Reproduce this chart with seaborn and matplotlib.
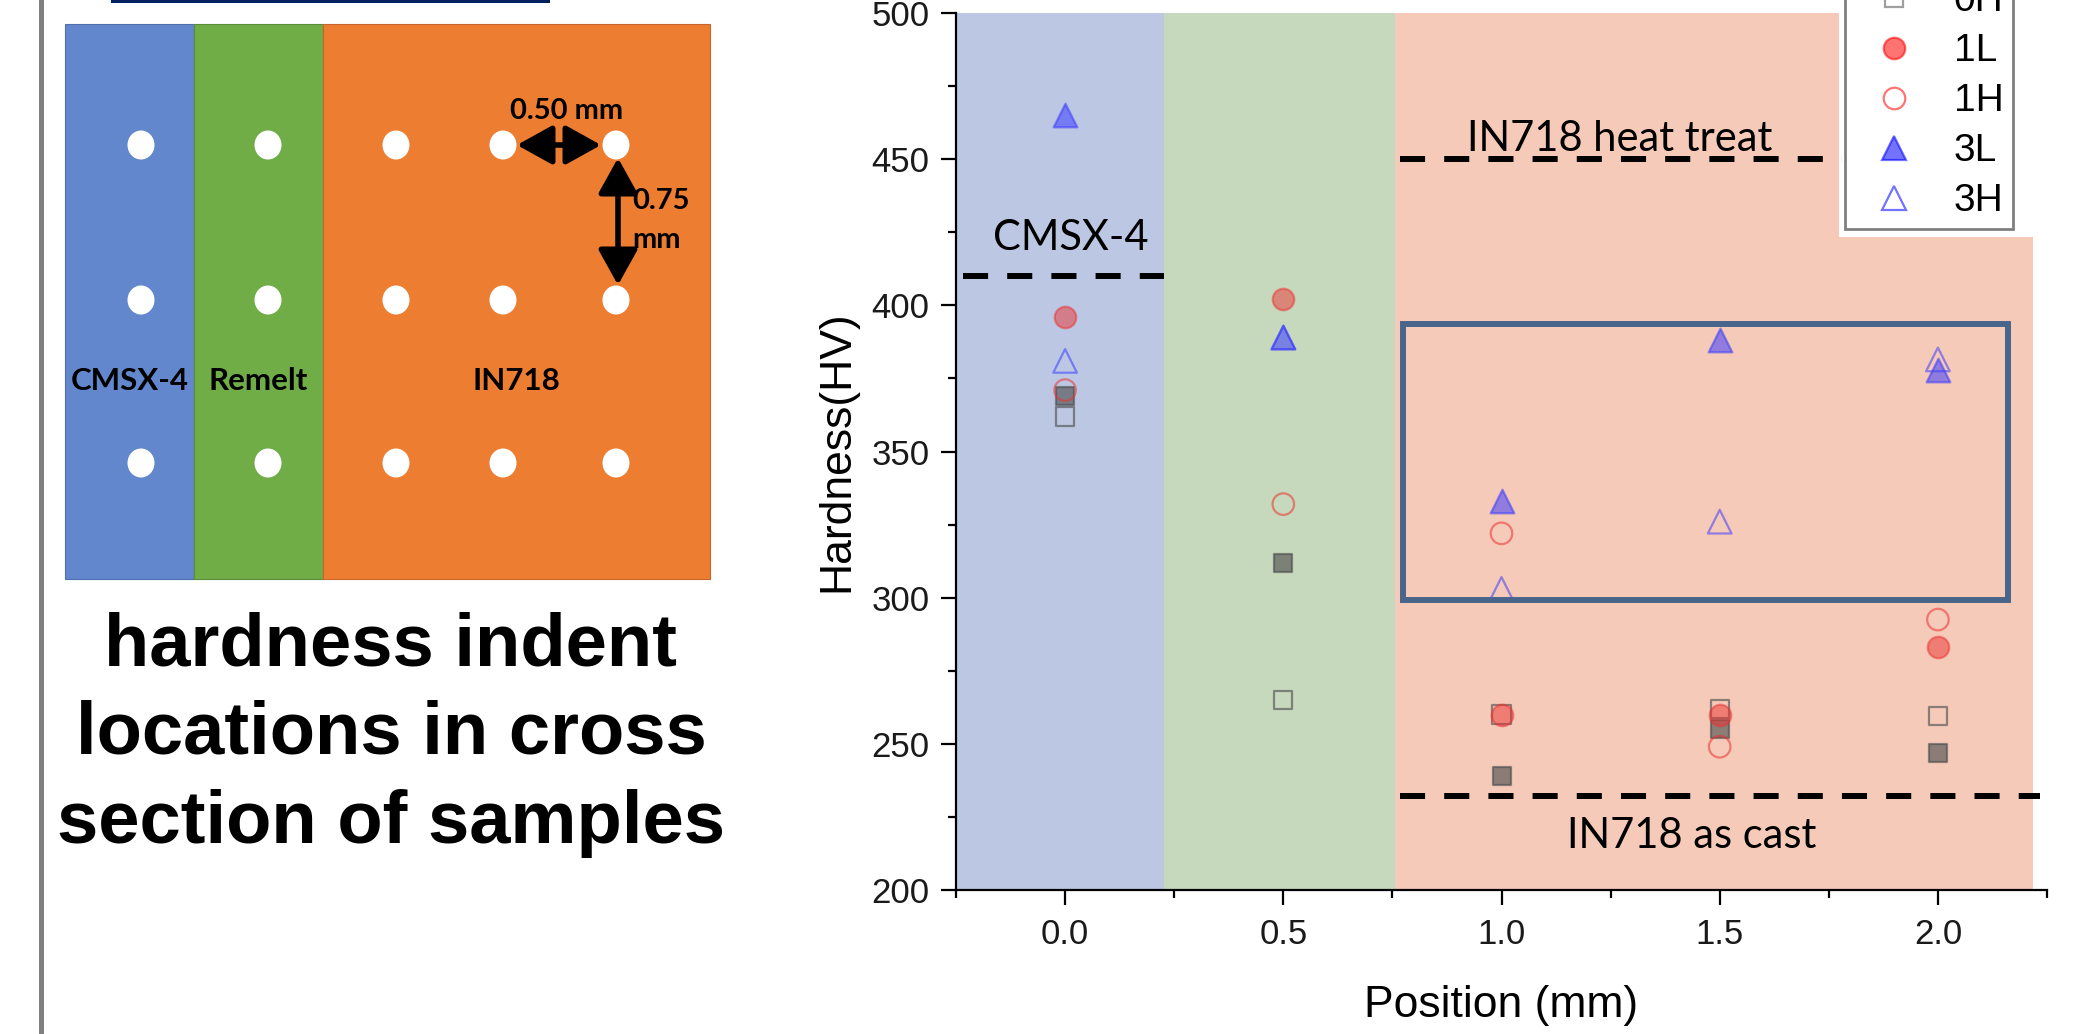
import matplotlib
matplotlib.use("Agg")
import numpy as np
import pandas as pd
import matplotlib.pyplot as plt
import seaborn as sns
from matplotlib.patches import Rectangle, Ellipse, FancyArrowPatch
from matplotlib.lines import Line2D
from matplotlib.ticker import MultipleLocator, FormatStrFormatter

# ---------------- data ----------------
positions = [0.0, 0.5, 1.0, 1.5, 2.0]
hv_0L = [369, 312, 239, 255, 247]
hv_0H = [362, 265, 260, 262, 259.5]
hv_1L = [396, 402, 260, 260, 283]
hv_1H = [371, 332, 322, 249, 292.5]
hv_3L = [465, 389, 333, 388, 378]
hv_3H = [381, 389, 303, 326, 381.5]
series_names = ["0L", "0H", "1L", "1H", "3L", "3H"]

region_names = ["CMSX-4", "Remelt", "IN718"]
region_bounds = [(-0.25, 0.227), (0.227, 0.757), (0.757, 2.218)]

ref_labels = ["CMSX-4", "IN718 heat treat", "IN718 as cast"]
ref_values = [410, 450, 232]
ref_spans = [(-0.235, 0.227), (0.768, 1.78), (0.768, 2.235)]

box_x = (0.775, 2.161)
box_y = (299.2, 393.6)

x_label = "Position (mm)"
y_label = "Hardness(HV)"
schematic_caption = ["hardness indent", "locations in cross", "section of samples"]

# ---------------- style ----------------
sns.set_style("ticks")
plt.rcParams["font.family"] = ["Liberation Sans", "DejaVu Sans"]
plt.rcParams["text.color"] = "black"
plt.rcParams["axes.labelcolor"] = "black"
plt.rcParams["xtick.color"] = "black"
plt.rcParams["ytick.color"] = "black"

W, H = 2094, 1034
fig = plt.figure(figsize=(W / 100, H / 100), dpi=100)

# ---------- left schematic (pixel coordinates) ----------
bg = fig.add_axes([0, 0, 1, 1], zorder=0)
bg.set_xlim(0, W)
bg.set_ylim(H, 0)
bg.axis("off")

bg.add_patch(Rectangle((38.5, 0), 5, H, fc="#808080", ec="none"))
bg.add_patch(Rectangle((111, -2), 439, 5, fc="#002060", ec="none"))

rect_cols = [(65, 194, "#6287cc", "#4f6fae"), (194, 323, "#70ad47", "#5a8f38"),
             (323, 710, "#ed7d31", "#c9652a")]
for x0, x1, fc, ec in rect_cols:
    bg.add_patch(Rectangle((x0, 24), x1 - x0, 555, fc=fc, ec=ec, lw=0.8))

dot_x = [141, 268, 396, 503, 616]
dot_y = [145, 300, 463]
for dx in dot_x:
    for dy in dot_y:
        bg.add_patch(Ellipse((dx, dy), 27, 29, fc="white", ec="none"))

bg.add_patch(FancyArrowPatch((517, 145), (601, 145),
                             arrowstyle="<|-|>,head_length=0.9,head_width=0.5",
                             mutation_scale=24, lw=4, color="black",
                             shrinkA=0, shrinkB=0))
bg.add_patch(FancyArrowPatch((618, 158), (618, 285),
                             arrowstyle="<|-|>,head_length=0.9,head_width=0.5",
                             mutation_scale=24, lw=4, color="black",
                             shrinkA=0, shrinkB=0))
sch_font = ["Lato", "DejaVu Sans"]
bg.text(567, 111, "0.50 mm", ha="center", va="center", fontsize=21,
        fontweight="bold", family=sch_font)
bg.text(632, 201, "0.75", ha="left", va="center", fontsize=21,
        fontweight="bold", family=sch_font)
bg.text(632, 240, "mm", ha="left", va="center", fontsize=21,
        fontweight="bold", family=sch_font)
for name, cx in zip(region_names, [130, 258, 516]):
    bg.text(cx, 381, name, ha="center", va="center", fontsize=22.5,
            fontweight="bold", family=sch_font)

for line, by in zip(schematic_caption, [665, 754, 843]):
    bg.text(391, by, line, ha="center", va="baseline", fontsize=53.5,
            fontweight="bold", family=["Liberation Sans", "DejaVu Sans"],
            color="black")

# ---------------- main chart ----------------
ax = fig.add_axes([956 / W, 1 - 890 / H, 1091 / W, 877 / H], zorder=1)
ax.set_xlim(-0.25, 2.25)
ax.set_ylim(200, 500)

region_colors = ["#bcc8e3", "#c7d9bd", "#f5cab8"]
for (lo, hi), c in zip(region_bounds, region_colors):
    ax.axvspan(lo, hi, color=c, lw=0, zorder=0)
# white margin around legend
ax.add_patch(Rectangle((1.773, 423.4), 0.5, 90, fc="white", ec="none", zorder=0.5))

for val, (lo, hi) in zip(ref_values, ref_spans):
    ax.plot([lo, hi], [val, val], color="black", lw=4.3,
            linestyle=(0, (4.2, 3.2)), dash_capstyle="butt", zorder=2)

ann_font = ["Lato", "DejaVu Sans"]
ax.text(0.012, 423, ref_labels[0], ha="center", va="center", fontsize=30,
        family=ann_font, zorder=3)
ax.text(1.27, 457, ref_labels[1], ha="center", va="center", fontsize=30,
        family=ann_font, zorder=3)
ax.text(1.436, 218.5, ref_labels[2], ha="center", va="center", fontsize=30,
        family=ann_font, zorder=3)

gray, red, blue = "#505050", "#eb3232", "#3c3cff"
styles = {
    "0L": dict(marker="s", fc=gray, ec=gray, s=175, alpha=0.64),
    "0H": dict(marker="s", fc="none", ec=gray, s=175, alpha=0.64),
    "1L": dict(marker="o", fc=red, ec=red, s=240, alpha=0.5),
    "1H": dict(marker="o", fc="none", ec=red, s=240, alpha=0.55),
    "3L": dict(marker="^", fc=blue, ec=blue, s=290, alpha=0.55),
    "3H": dict(marker="^", fc="none", ec=blue, s=290, alpha=0.55),
}
series_values = [hv_0L, hv_0H, hv_1L, hv_1H, hv_3L, hv_3H]
df = pd.DataFrame({"Position": positions * len(series_names),
                   "Hardness": sum(series_values, []),
                   "Sample": np.repeat(series_names, len(positions))})

for name in series_names:
    st = styles[name]
    sub = df[df["Sample"] == name]
    sns.scatterplot(data=sub, x="Position", y="Hardness", ax=ax,
                    marker=st["marker"], s=st["s"], facecolor=st["fc"],
                    edgecolor=st["ec"], linewidth=1.6, alpha=st["alpha"],
                    legend=False, zorder=3)

ax.add_patch(Rectangle((box_x[0], box_y[0]), box_x[1] - box_x[0], box_y[1] - box_y[0],
                       fill=False, ec="#4a658c", lw=4.3, zorder=4))

# axes styling
for side in ["top", "right"]:
    ax.spines[side].set_visible(False)
for side in ["left", "bottom"]:
    ax.spines[side].set_linewidth(1.6)
    ax.spines[side].set_color("black")
ax.xaxis.set_major_locator(MultipleLocator(0.5))
ax.xaxis.set_minor_locator(MultipleLocator(0.25))
ax.yaxis.set_major_locator(MultipleLocator(50))
ax.yaxis.set_minor_locator(MultipleLocator(25))
ax.xaxis.set_major_formatter(FormatStrFormatter("%.1f"))
ax.tick_params(which="major", direction="out", length=11, width=1.6,
               labelsize=25, colors="black", labelcolor="#1a1a1a")
ax.tick_params(which="minor", direction="out", length=6, width=1.6, colors="black")
ax.tick_params(axis="x", which="major", pad=9)
ax.tick_params(axis="y", which="major", pad=8)

ax.set_xlabel(x_label, fontsize=32, color="black")
ax.set_ylabel(y_label, fontsize=32, color="black")
ax.xaxis.set_label_coords(0.5, -0.108)
ax.yaxis.set_label_coords(-0.09, 0.5)

# legend
legend_colors = {"0L": gray, "0H": gray, "1L": "#ff0000", "1H": "#ff0000",
                 "3L": "#0000ff", "3H": "#0000ff"}
handles = []
for name in series_names:
    st = styles[name]
    lc = legend_colors[name]
    handles.append(Line2D([], [], linestyle="none", marker=st["marker"],
                          markersize=np.sqrt(st["s"]),
                          markerfacecolor=("none" if st["fc"] == "none" else lc),
                          markeredgecolor=lc, markeredgewidth=1.6, alpha=0.55))
leg = ax.legend(handles, series_names, loc="lower right",
                bbox_to_anchor=(2013 / W, 1 - 229 / H), bbox_transform=fig.transFigure,
                borderaxespad=0, fontsize=28, frameon=True, fancybox=False,
                framealpha=1, edgecolor="#7f7f7f", borderpad=0.25,
                handlelength=2.05, handletextpad=0.5, labelspacing=0.36)
leg.get_frame().set_linewidth(2.0)
leg.set_zorder(10)
for t in leg.get_texts():
    t.set_color("black")

fig.savefig("out.png", dpi=100)
